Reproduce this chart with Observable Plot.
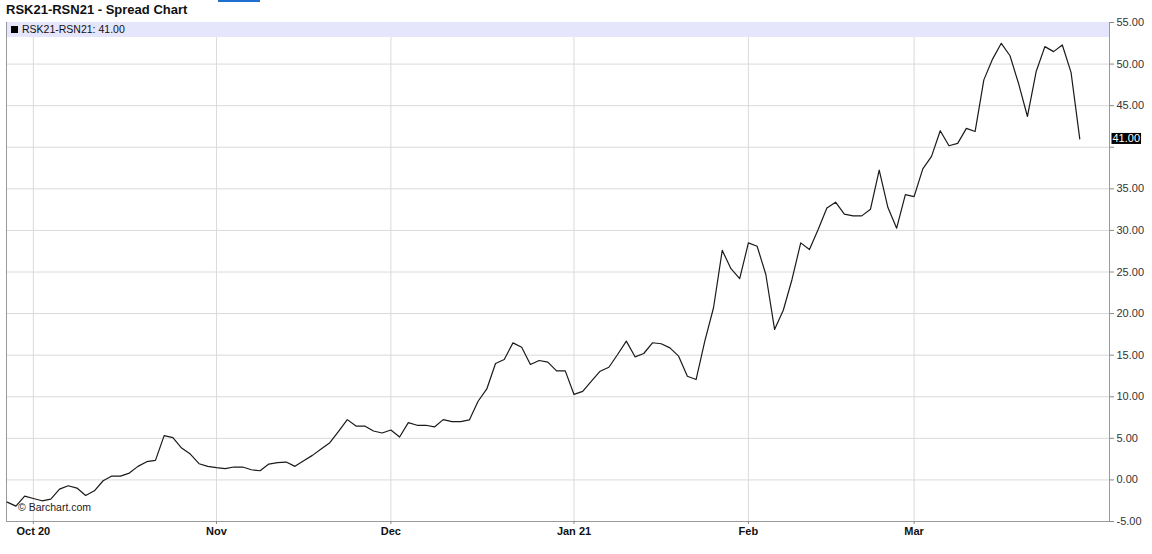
<!DOCTYPE html>
<html><head><meta charset="utf-8">
<script src="https://cdn.jsdelivr.net/npm/d3@7"></script>
<script src="https://cdn.jsdelivr.net/npm/@observablehq/plot@0.6"></script>
<style>
body{margin:0;background:#fff;font-family:"Liberation Sans",Arial,sans-serif;}
#wrap{position:relative;width:1152px;height:554px;overflow:hidden;}
#title{position:absolute;left:6px;top:2px;font-size:13px;font-weight:bold;color:#111;white-space:nowrap;}
#topblue{position:absolute;left:218px;top:0;width:42px;height:2px;background:#1f6fd0;}
#band{position:absolute;left:6.5px;top:22px;width:1102px;height:14.5px;background:#e5e5fb;z-index:2;}
#legend{position:absolute;left:11px;top:22.5px;font-size:10.5px;color:#111;white-space:nowrap;z-index:3;line-height:13px;}
#legend span{display:inline-block;width:7px;height:7px;background:#000;margin-right:4px;vertical-align:0px;}
#credit{position:absolute;left:18px;top:501px;font-size:10.5px;color:#222;white-space:nowrap;}
#chart{position:absolute;left:0;top:0;}
</style></head><body>
<div id="wrap">
  <div id="chart"></div>
  <div id="topblue"></div>
  <div id="title">RSK21-RSN21 - Spread Chart</div>
  <div id="band"></div>
  <div id="legend"><span></span>RSK21-RSN21: 41.00</div>
  <div id="credit">© Barchart.com</div>
</div>
<script>
const spread = [
  -2.67, -3.15, -1.95, -2.23, -2.51, -2.31, -1.10, -0.70, -0.98, -1.87,
  -1.31, -0.10, 0.46, 0.46, 0.82, 1.63, 2.19, 2.35, 5.32, 5.08,
  3.83, 3.11, 1.95, 1.63, 1.47, 1.35, 1.55, 1.55, 1.22, 1.10,
  1.91, 2.07, 2.15, 1.63, 2.31, 2.95, 3.71, 4.48, 5.84, 7.25,
  6.48, 6.48, 5.88, 5.64, 6.00, 5.16, 6.89, 6.57, 6.57, 6.37,
  7.25, 7.01, 7.01, 7.21, 9.46, 10.94, 14.00, 14.48, 16.48, 15.96,
  13.88, 14.36, 14.16, 13.11, 13.11, 10.28, 10.64, 11.87, 13.07, 13.55,
  15.08, 16.69, 14.80, 15.20, 16.49, 16.37, 15.88, 14.88, 12.47, 12.07,
  16.69, 20.70, 27.60, 25.40, 24.20, 28.50, 28.10, 24.70, 18.10, 20.40,
  24.10, 28.50, 27.70, 30.10, 32.70, 33.40, 31.95, 31.75, 31.75, 32.55,
  37.25, 32.75, 30.27, 34.30, 34.06, 37.40, 38.90, 41.99, 40.18, 40.46,
  42.27, 41.90, 48.10, 50.60, 52.50, 51.00, 47.60, 43.70, 49.10, 52.10,
  51.50, 52.30, 49.00, 41.00
];
const monthTickIndex = [3, 24, 44, 65, 85, 104];
const monthTickLabels = ["Oct 20", "Nov", "Dec", "Jan 21", "Feb", "Mar"];
const yTickValues = [-5, 0, 5, 10, 15, 20, 25, 30, 35, 40, 45, 50, 55];

const data = spread.map((v, i) => ({i, v}));
const last = spread[spread.length - 1];

const plot = Plot.plot({
  width: 1152, height: 554,
  marginTop: 22, marginBottom: 33, marginLeft: 6, marginRight: 43,
  style: {background: "transparent", fontFamily: "Liberation Sans, Arial, sans-serif", fontSize: "11px", color: "#222"},
  x: {type: "linear", domain: [-0.08, 126.41]},
  y: {domain: [-5, 55]},
  marks: [
    Plot.gridY(yTickValues, {stroke: "#dadada", strokeOpacity: 1}),
    Plot.gridX(monthTickIndex, {stroke: "#dadada", strokeOpacity: 1}),
    Plot.frame({stroke: "#9a9a9a"}),
    Plot.axisX(monthTickIndex, {
      tickFormat: d => monthTickLabels[monthTickIndex.indexOf(d)],
      fontWeight: "bold", tickSize: 3, tickPadding: 3, stroke: "#888", fill: "#111", label: null
    }),
    Plot.axisY(yTickValues, {
      anchor: "right", tickFormat: d => d === 40 ? "" : d.toFixed(2),
      tickSize: 4, tickPadding: 3, stroke: "#888", fill: "#333", label: null
    }),
    Plot.lineY(data, {x: "i", y: "v", stroke: "#1a1a1a", strokeWidth: 1.2}),
    Plot.text([last], {y: d => d, frameAnchor: "right", dx: 3, textAnchor: "start",
      text: d => d.toFixed(2), fill: "white", fontSize: 11})
  ]
});
document.getElementById("chart").appendChild(plot);

d3.select(plot).selectAll('g[aria-label="text"] text').each(function() {
  const bb = this.getBBox();
  const tr = this.getAttribute("transform");
  const r = d3.select(this.parentNode).insert("rect", "text")
    .attr("x", bb.x - 1).attr("y", bb.y + 0.5).attr("width", bb.width + 2).attr("height", bb.height - 1)
    .attr("fill", "#000");
  if (tr) r.attr("transform", tr);
});
</script>
</body></html>
